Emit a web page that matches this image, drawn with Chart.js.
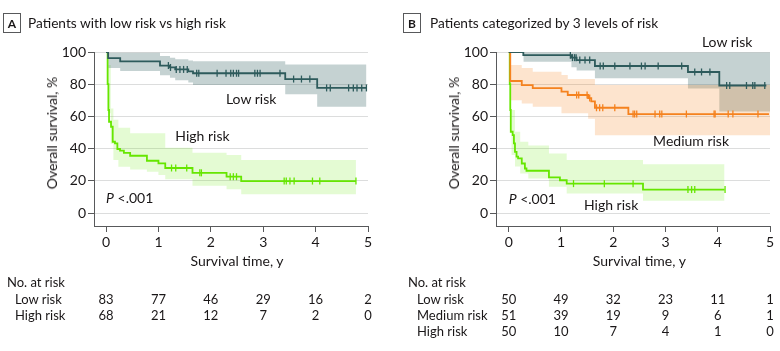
<!DOCTYPE html>
<html><head><meta charset="utf-8">
<script src="https://cdn.jsdelivr.net/npm/chart.js@4.4.1/dist/chart.umd.min.js"></script>
<style>
html,body{margin:0;padding:0;background:#fff}
body{width:780px;height:351px;position:relative;overflow:hidden;font-family:Lato,"Liberation Sans",sans-serif;color:#1a1718}
.panel{position:absolute;top:0;width:390px;height:351px}
.panel canvas{position:absolute;left:0;top:0}
.t{position:absolute;white-space:nowrap;line-height:1;font-size:13px}
.c{transform:translate(-50%,-50%)}
.l{transform:translate(0,-50%)}
.rot{transform:translate(-50%,-50%) rotate(-90deg);font-size:14px}
.ax{font-size:14px}
.box{position:absolute;top:13px;width:18px;height:20px;border:1px solid #58595b;box-sizing:border-box;font-weight:bold;font-size:12px;display:flex;align-items:center;justify-content:center}
.title{position:absolute;top:23px;transform:translateY(-50%);font-size:13.7px;white-space:nowrap;line-height:1}
</style></head><body>
<div class="panel" id="pa" style="left:0"><canvas id="ca" width="390" height="351"></canvas></div>
<div class="panel" id="pb" style="left:390px"><canvas id="cb" width="390" height="351"></canvas></div>
<script>
// ---------- shared axis values ----------
const years = [0, 1, 2, 3, 4, 5];
const survTicks = [0, 20, 40, 60, 80, 100];

// ---------- Panel A: low vs high risk ----------
const aLowT = [0, 0.04, 0.27, 1.03, 1.22, 1.32, 1.57, 1.66, 3.42, 4.03, 4.97];
const aLowS = [100, 96.2, 94.2, 91.6, 90.4, 89.2, 88.0, 86.8, 83.2, 77.7, 77.7];
const aLowCiT = [0.04, 0.27, 1.03, 1.22, 1.32, 1.57, 1.66, 3.42, 4.03, 4.97];
const aLowCiU = [99.6, 99.6, 97.5, 96.5, 95.5, 94.8, 94.2, 92.2, 92.2, 92.2];
const aLowCiL = [90, 88.2, 85.5, 84, 82.5, 81, 79.5, 73.7, 66, 66];
const aLowCens = [1.19, 1.23, 1.34, 1.41, 1.48, 1.55, 1.73, 1.77, 2.12, 2.29, 2.38, 2.43, 2.49, 2.53, 2.84, 2.89, 2.94, 3.32, 3.58, 3.73, 3.89, 4.21, 4.28, 4.63, 4.72, 4.79, 4.88, 4.97];

const aHighT = [0, 0.03, 0.045, 0.057, 0.095, 0.127, 0.17, 0.216, 0.267, 0.34, 0.46, 0.78, 1.0, 1.13, 1.65, 2.3, 2.58, 4.77];
const aHighS = [100, 80, 64, 56.7, 53.6, 44.3, 43.3, 39.8, 38.8, 37.4, 35.6, 32.5, 30.9, 28, 25, 22.6, 19.9, 19.9];
const aHighCiT = [0.03, 0.09, 0.14, 0.235, 0.46, 0.78, 1.0, 1.13, 1.65, 2.3, 2.58, 4.77];
const aHighCiU = [92, 65, 58, 53, 49.5, 49.5, 49.5, 40.5, 37.5, 36, 33, 33];
const aHighCiL = [62, 43, 33, 28.8, 27.1, 25.7, 23.6, 21, 17, 14.8, 11.7, 11.7];
const aHighCens = [1.25, 1.33, 1.54, 1.79, 1.82, 2.37, 2.43, 2.49, 3.40, 3.44, 3.51, 3.59, 3.94, 4.08, 4.77];

const aRiskNames = ['Low risk', 'High risk'];
const aRiskLow = [83, 77, 46, 29, 16, 2];
const aRiskHigh = [68, 21, 12, 7, 2, 0];

// ---------- Panel B: 3 levels of risk ----------
const bLowT = [0, 0.28, 1.2, 1.3, 1.65, 3.43, 4.03, 4.93];
const bLowS = [100, 98, 96.5, 95, 91.3, 87.6, 79.2, 79.2];
const bLowCiT = [0.28, 1.2, 1.3, 1.65, 3.43, 4.03, 5.0];
const bLowCiU = [99.7, 99.7, 99.7, 99.7, 99.7, 99.7, 99.7];
const bLowCiL = [94, 90.5, 88.5, 83.7, 77.4, 63, 63];
const bLowCens = [1.18, 1.22, 1.26, 1.29, 1.36, 1.46, 1.55, 1.75, 1.81, 2.03, 2.32, 2.54, 2.61, 2.86, 3.31, 3.56, 3.69, 3.85, 4.17, 4.23, 4.55, 4.67, 4.71, 4.90];

const bMedT = [0, 0.03, 0.25, 0.46, 1.01, 1.13, 1.52, 1.58, 1.65, 2.29, 4.98];
const bMedS = [100, 82, 79.5, 77.6, 75.4, 73.3, 71.4, 69.3, 65.4, 61.5, 61.5];
const bMedCiT = [0.03, 0.25, 0.46, 1.01, 1.13, 1.52, 1.65, 2.29, 5.0];
const bMedCiU = [92, 90, 87.8, 85.7, 83.2, 83.2, 79.5, 79.5, 79.5];
const bMedCiL = [70, 68, 66, 62, 62, 58.5, 48.4, 48.4, 48.4];
const bMedCens = [1.30, 1.34, 1.50, 1.55, 1.68, 1.74, 1.80, 2.03, 2.38, 2.41, 2.45, 2.80, 2.89, 2.93, 3.40, 3.93, 3.95, 4.20, 4.29, 4.77];

const bHighT = [0, 0.02, 0.03, 0.04, 0.076, 0.1, 0.12, 0.15, 0.18, 0.25, 0.31, 0.34, 0.77, 0.98, 1.11, 2.57, 4.13];
const bHighS = [100, 80, 64, 50.5, 48.4, 43.3, 38, 35, 34, 30.8, 27.7, 26.3, 22.2, 20.4, 18.3, 14.6, 14.6];
const bHighCiT = [0.05, 0.12, 0.22, 0.375, 0.77, 1.11, 2.57, 4.13];
const bHighCiU = [64, 50.5, 44.3, 42, 37, 33, 30.4, 30.4];
const bHighCiL = [36, 29, 24.6, 21.5, 16.4, 12.2, 7.7, 7.7];
const bHighCens = [1.24, 1.83, 2.38, 3.43, 3.50, 3.56, 4.14];

const bRiskNames = ['Low risk', 'Medium risk', 'High risk'];
const bRiskLow = [50, 49, 32, 23, 11, 1];
const bRiskMed = [51, 39, 19, 9, 6, 1];
const bRiskHigh = [50, 10, 7, 4, 1, 0];

// ---------- colours ----------
const C_LOW = '#2e5b5c', C_LOW_BAND = 'rgba(47,93,94,0.28)';
const C_MED = '#f5821f', C_MED_BAND = 'rgba(245,130,32,0.22)';
const C_HIGH = '#66e600', C_HIGH_BAND = 'rgba(110,235,20,0.19)';
const AXIS = '#58595b', GRID = '#dcdddd', TXT = '#1a1718';
const FONT = 'Lato, "Liberation Sans", sans-serif';

// ---------- helpers ----------
const pts = (ts, vs) => ts.map((t, i) => ({x: t, y: vs[i]}));
const stepAt = (ts, vs, t) => { let v = vs[0]; for (let i = 0; i < ts.length; i++) if (ts[i] <= t) v = vs[i]; return v; };
const band = (ts, up, lo, col) => [
  {data: pts(ts, up), stepped: 'before', borderWidth: 0, borderColor: 'rgba(0,0,0,0)', pointRadius: 0, backgroundColor: col, fill: '+1', order: 10},
  {data: pts(ts, lo), stepped: 'before', borderWidth: 0, borderColor: 'rgba(0,0,0,0)', pointRadius: 0, fill: false, order: 10}
];
const curve = (ts, vs, col) => ({data: pts(ts, vs), stepped: 'before', borderColor: col, borderWidth: 1.8, pointRadius: 0, fill: false, order: 2});
const cens = (ts, vs, cs, col) => ({data: cs.map(c => ({x: c, y: stepAt(ts, vs, c)})), showLine: false, pointStyle: 'line', rotation: 90, pointRadius: 3.5, borderColor: col, borderWidth: 1.3, order: 1});

function makeChart(canvas, datasets, xMin, padding) {
  return new Chart(canvas, {
    type: 'line',
    data: {datasets},
    options: {
      responsive: false, animation: false, devicePixelRatio: 1,
      layout: {padding},
      plugins: {legend: {display: false}, tooltip: {enabled: false}},
      scales: {
        x: {
          type: 'linear', min: xMin, max: 5,
          afterBuildTicks: s => { s.ticks = years.map(v => ({value: v})); },
          afterFit: s => { s.height = 50; },
          grid: {drawOnChartArea: false, tickLength: 6, tickColor: AXIS},
          border: {color: AXIS, width: 1},
          ticks: {font: {family: FONT, size: 14}, color: TXT, padding: 2, maxRotation: 0, autoSkip: false}
        },
        y: {
          type: 'linear', min: -8, max: 100,
          afterBuildTicks: s => { s.ticks = survTicks.map(v => ({value: v})); },
          afterFit: s => { s.width = 54; },
          grid: {color: GRID, tickColor: AXIS, tickLength: 6},
          border: {color: AXIS, width: 1},
          ticks: {font: {family: FONT, size: 14}, color: TXT, padding: 2}
        }
      }
    }
  });
}

const chartA = makeChart(document.getElementById('ca'), [
  ...band(aLowCiT, aLowCiU, aLowCiL, C_LOW_BAND),
  ...band(aHighCiT, aHighCiU, aHighCiL, C_HIGH_BAND),
  curve(aLowT, aLowS, C_LOW),
  curve(aHighT, aHighS, C_HIGH),
  cens(aLowT, aLowS, aLowCens, C_LOW),
  cens(aHighT, aHighS, aHighCens, C_HIGH)
], -0.23, {left: 40, right: 22, top: 52, bottom: 75});

const chartB = makeChart(document.getElementById('cb'), [
  ...band(bMedCiT, bMedCiU, bMedCiL, C_MED_BAND),
  ...band(bLowCiT, bLowCiU, bLowCiL, C_LOW_BAND),
  ...band(bHighCiT, bHighCiU, bHighCiL, C_HIGH_BAND),
  curve(bLowT, bLowS, C_LOW),
  curve(bMedT, bMedS, C_MED),
  curve(bHighT, bHighS, C_HIGH),
  cens(bLowT, bLowS, bLowCens, C_LOW),
  cens(bMedT, bMedS, bMedCens, C_MED),
  cens(bHighT, bHighS, bHighCens, C_HIGH)
], -0.243, {left: 52, right: 10, top: 52, bottom: 75});

// ---------- text overlays ----------
function txt(parent, html, x, y, cls) {
  const d = document.createElement('div');
  d.className = 't ' + cls;
  d.innerHTML = html;
  d.style.left = x + 'px';
  d.style.top = y + 'px';
  parent.appendChild(d);
  return d;
}
function decorate(panelId, chart, letter, title, boxLeft, titleLeft, labels, riskNames, riskRows, headerX, nameX) {
  const p = document.getElementById(panelId);
  const xs = chart.scales.x, ys = chart.scales.y, ca = chart.chartArea;
  const b = document.createElement('div'); b.className = 'box'; b.textContent = letter; b.style.left = boxLeft + 'px'; p.appendChild(b);
  const t = document.createElement('div'); t.className = 'title'; t.textContent = title; t.style.left = titleLeft + 'px'; p.appendChild(t);
  txt(p, 'Overall survival, %', ca.left - 42, ys.getPixelForValue(50), 'rot');
  txt(p, 'Survival time, y', xs.getPixelForValue(2.5), 261, 'c ax');
  labels.forEach(l => {
    const x = xs.getPixelForValue(l[1]), y = ys.getPixelForValue(l[2]);
    txt(p, l[0], x, y, l[3] ? 'l ax' : 'c ax');
  });
  txt(p, 'No. at risk', headerX, 282, 'l');
  riskRows.forEach((row, r) => {
    const y = 298.5 + r * 16.4;
    txt(p, riskNames[r], nameX, y, 'l');
    row.forEach((n, i) => txt(p, String(n), xs.getPixelForValue(years[i]), y, 'c'));
  });
}
decorate('pa', chartA, 'A', 'Patients with low risk vs high risk', 3, 28,
  [['Low risk', 2.77, 70.8], ['High risk', 1.84, 47.8], ['<i>P</i> &lt;.001', 0, 9.3, true]],
  aRiskNames, [aRiskLow, aRiskHigh], 7, 15);
decorate('pb', chartB, 'B', 'Patients categorized by 3 levels of risk', 13, 40,
  [['Low risk', 4.18, 106], ['Medium risk', 3.49, 44.9], ['High risk', 1.96, 4.8], ['<i>P</i> &lt;.001', 0, 8.7, true]],
  bRiskNames, [bRiskLow, bRiskMed, bRiskHigh], 18, 27);
</script>
</body></html>
